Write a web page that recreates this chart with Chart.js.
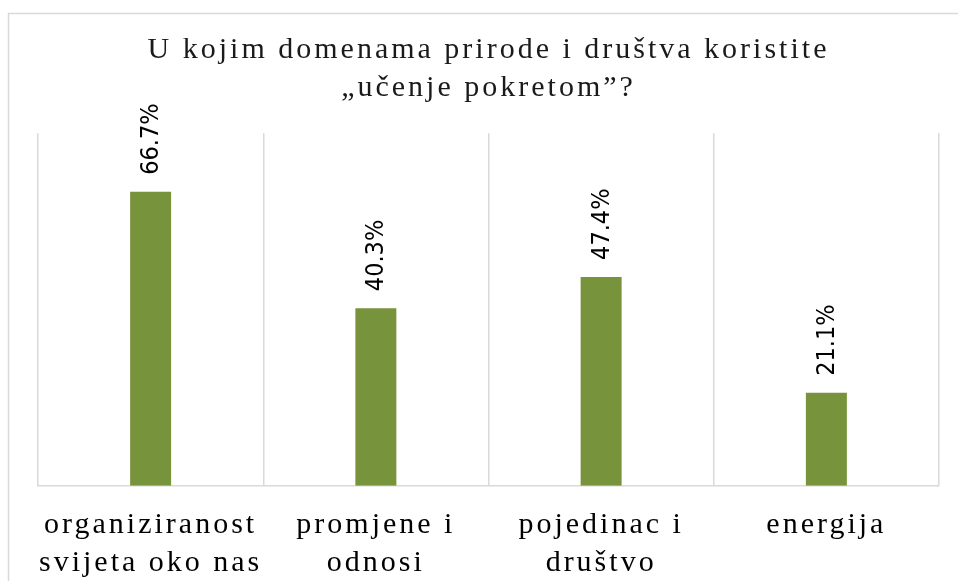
<!DOCTYPE html>
<html>
<head>
<meta charset="utf-8">
<script src="https://cdn.jsdelivr.net/npm/chart.js@4"></script>
<style>
  html, body { margin: 0; padding: 0; background: #fff; }
  #wrap { position: relative; width: 958px; height: 581px; }
</style>
</head>
<body>
<div id="wrap"><canvas id="chart" width="958" height="581"></canvas></div>
<script>
// podaci
const categories = [
    ['organiziranost', 'svijeta oko nas'],
    ['promjene i', 'odnosi'],
    ['pojedinac i', 'društvo'],
    ['energija']
];
const values = [66.7, 40.3, 47.4, 21.1];
const titleLines = ['U kojim domenama prirode i društva koristite', '„učenje pokretom”?'];

const green = '#77933C';
const gridGray = '#d9d9d9';
const serif = '"Liberation Serif", "Times New Roman", serif';

// razmak slova za naslov i oznake (serif)
const spacingPlugin = {
    id: 'spacing',
    beforeLayout(chart) { chart.ctx.letterSpacing = '3px'; },
    beforeDraw(chart) {
        const ctx = chart.ctx;
        ctx.letterSpacing = '3px';
        // okvir grafikona
        ctx.save();
        ctx.strokeStyle = gridGray;
        ctx.lineWidth = 1.5;
        ctx.strokeRect(8.5, 13.5, 1200, 1200);
        ctx.restore();
    }
};

// oznake vrijednosti, okrenute okomito
const labelPlugin = {
    id: 'valueLabels',
    afterDatasetsDraw(chart) {
        const ctx = chart.ctx;
        const meta = chart.getDatasetMeta(0);
        ctx.save();
        ctx.letterSpacing = '0px';
        ctx.font = '25px "Liberation Sans Narrow", "DejaVu Sans Condensed", sans-serif';
        ctx.fillStyle = '#000';
        ctx.textAlign = 'left';
        ctx.textBaseline = 'middle';
        meta.data.forEach((bar, i) => {
            ctx.save();
            ctx.translate(bar.x + 1, bar.y - 17);
            ctx.rotate(-Math.PI / 2);
            ctx.fillText(values[i].toFixed(1) + '%', 0, 0);
            ctx.restore();
        });
        ctx.restore();
    }
};

const chart = new Chart(document.getElementById('chart').getContext('2d'), {
    type: 'bar',
    data: {
        labels: categories,
        datasets: [{
            data: values,
            backgroundColor: green,
            borderWidth: 0,
            barPercentage: 0.182,
            categoryPercentage: 1
        }]
    },
    options: {
        responsive: false,
        animation: false,
        layout: { padding: { left: 38, right: 19, top: 0, bottom: -21 } },
        plugins: {
            legend: { display: false },
            tooltip: { enabled: false },
            title: {
                display: true,
                text: titleLines,
                color: '#1a1a1a',
                font: { family: serif, size: 30, weight: 'normal', lineHeight: 1.27 },
                padding: { top: 31, bottom: 26 }
            }
        },
        scales: {
            x: {
                grid: { display: true, color: gridGray, lineWidth: 1.5, drawTicks: false, offset: true },
                border: { display: true, color: gridGray, width: 1.5 },
                ticks: {
                    color: '#000',
                    padding: 20,
                    maxRotation: 0,
                    autoSkip: false,
                    font: { family: serif, size: 30, lineHeight: 1.27 }
                }
            },
            y: {
                display: false,
                min: 0,
                max: 80
            }
        }
    },
    plugins: [spacingPlugin, labelPlugin]
});
</script>
</body>
</html>
